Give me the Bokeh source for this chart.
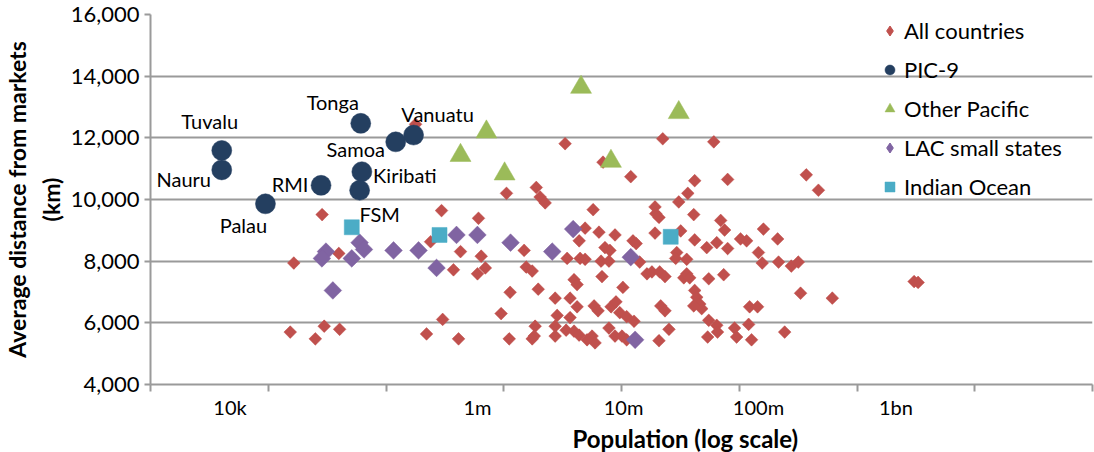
import math
from bokeh.plotting import figure
from bokeh.models import (Range1d, FixedTicker, NumeralTickFormatter, Title,
                          Legend, LegendItem, ColumnDataSource)
from bokeh.core.properties import value
from bokeh.embed import file_html
from bokeh.resources import INLINE

FONT = "Lato"

# ---------------- data ----------------
all_pop = [34e3, 73e3, 32e3, 49e3, 57e3, 74e3, 55e3,
           269e3, 3.41e6, 1.26e6, 2.09e6, 2.23e6, 2.43e6, 418e3, 783e3, 347e3, 577e3,
           820e3, 880e3, 770e3, 512e3, 1.70e6, 1.76e6, 1.95e6, 3.53e6, 4.33e6, 4.4e6,
           1.34e6, 2.16e6, 2.88e6, 3.71e6, 3.97e6, 4.18e6, 4.18e6, 2.98e6, 3.71e6, 1.15e6,
           426e3, 324e3, 558e3, 1.32e6, 2.05e6, 2.02e6, 1.95e6, 2.88e6, 2.88e6, 3.47e6,
           3.97e6, 4.33e6,
           17.9e6, 42.6e6, 6.49e6, 10.4e6, 30.8e6, 53.9e6, 27.4e6, 23.5e6, 5.49e6, 15.7e6,
           15.9e6, 16.8e6, 30.3e6, 47.9e6, 51.2e6, 4.79e6, 6.06e6, 7.96e6, 15.7e6, 24.3e6,
           30.8e6, 37.8e6, 44.8e6, 53.9e6, 6.71e6, 7.3e6, 10.8e6, 11.4e6, 4.79e6, 6.28e6,
           7.18e6, 12.1e6, 22.7e6, 22.3e6, 26.9e6, 6.38e6, 13.7e6, 14.9e6, 17.0e6, 18.6e6,
           25.6e6, 26.9e6, 28.3e6, 39.1e6, 50.4e6, 9.1e6, 5.58e6, 5.97e6, 7.44e6, 8.09e6,
           8.63e6, 9.7e6, 11.0e6, 17.3e6, 18.6e6, 30.8e6, 31.9e6, 33.6e6, 34.7e6, 30.3e6,
           39.1e6, 44.8e6, 60.6e6, 5.39e6, 5.67e6, 4.95e6, 7.18e6, 7.96e6, 8.96e6, 9.7e6,
           19.9e6, 16.8e6, 38.4e6, 45.4e6, 62.8e6,
           205e6, 252e6, 67.1e6, 74.4e6, 99e6, 126e6, 91e6, 97e6, 128e6, 159e6,
           179e6, 186e6, 319e6, 1.28e9, 1.37e9, 78.3e6, 89.6e6, 77e6, 80.9e6, 142e6]
all_dist = [7940, 8250, 5700, 5480, 5890, 5790, 9510,
            12440, 11810, 10200, 10390, 10080, 9890, 9640, 9390, 8630, 8310,
            8160, 7780, 7590, 7720, 8350, 7810, 7680, 8090, 8660, 8090,
            6990, 7090, 6800, 6800, 7400, 7240, 6520, 6240, 6170, 6300,
            6110, 5640, 5480, 5480, 5890, 5570, 5480, 5890, 5570, 5760,
            5730, 5600,
            11970, 11870, 11210, 10740, 10610, 10650, 10200, 9920, 9670, 9760,
            9540, 9420, 9510, 9320, 9010, 9070, 8940, 8850, 8910, 8980,
            8690, 8440, 8600, 8410, 8440, 8350, 8660, 8570, 8060, 8000,
            8000, 7970, 8280, 8090, 8060, 7500, 7590, 7650, 7650, 7500,
            7460, 7590, 7460, 7430, 7560, 7150, 6550, 6390, 6520, 6680,
            6330, 6200, 6050, 6550, 6390, 7050, 6830, 6610, 6460, 6550,
            6080, 5920, 5830, 5570, 5350, 5450, 5830, 5570, 5570, 5450,
            5790, 5420, 5540, 5700, 5540,
            10800, 10300, 8720, 8660, 9040, 8720, 8280, 7940, 7970, 7840,
            7970, 6960, 6800, 7340, 7310, 6520, 6520, 5950, 5450, 5700]

pic_names = ["Tuvalu", "Nauru", "Palau", "RMI", "Tonga", "Kiribati", "FSM", "Samoa", "Vanuatu"]
pic_pop = [10e3, 10e3, 21e3, 54e3, 106e3, 108e3, 104e3, 192e3, 260e3]
pic_dist = [11590, 10960, 9860, 10460, 12470, 10900, 10300, 11870, 12090]

other_pop = [4.47e6, 23.5e6, 896e3, 577e3, 1.22e6, 7.43e6]
other_dist = [13640, 12820, 12190, 11430, 10830, 11240]

lac_pop = [58.7e3, 54.8e3, 66e3, 91e3, 104e3, 112e3, 185e3, 283e3, 384e3, 539e3,
           769e3, 1.35e6, 2.74e6, 3.91e6, 10.4e6, 11.2e6]
lac_dist = [8310, 8090, 7050, 8090, 8600, 8380, 8350, 8350, 7780, 8850,
            8850, 8600, 8310, 9040, 8130, 5450]

io_pop = [91e3, 404e3, 20.5e6]
io_dist = [9100, 8850, 8790]

series_names = ["All countries", "PIC-9", "Other Pacific", "LAC small states", "Indian Ocean"]

x_tick_labels = ["10k", "1m", "10m", "100m", "1bn"]
x_tick_label_at = [11500, 770000, 9200000, 91000000, 940000000]   # label anchor positions
y_ticks = [4000, 6000, 8000, 10000, 12000, 14000, 16000]

# label offsets (pixels) for PIC-9 names
pic_dx = [-12, -38, -22, -31, -28, 43, 20, -40, 24]
pic_dy = [-29, 9, 21, -1, -21, 3, 24, 7, -21]

# ---------------- styles ----------------
RED = "#C0504D"
NAVY = "#243F60"
GREEN = "#9BBB59"
PURPLE = "#8064A2"
CYAN = "#4BACC6"
GRID = "#9a9a9a"

p = figure(width=1094, height=452, x_axis_type="log",
           x_range=Range1d(math.exp(8), math.exp(24)),
           y_range=Range1d(4000, 16000),
           output_backend="svg", toolbar_location=None,
           min_border_left=147, min_border_right=2,
           min_border_top=14, min_border_bottom=63)
p.outline_line_color = None
p.background_fill_color = "white"
p.border_fill_color = "white"

# upright diamonds underneath (also used as legend glyphs), fully covered by the
# 45-degree squares drawn on top
lg_all = p.scatter(all_pop, all_dist, marker="diamond", size=11,
                   fill_color=RED, line_color=RED)
r_all = p.scatter(all_pop, all_dist, marker="square", angle=math.pi / 4, size=9,
                  fill_color=RED, line_color=RED, line_width=0.5)
r_pic = p.scatter(pic_pop, pic_dist, marker="circle", size=20,
                  fill_color=NAVY, line_color=NAVY, line_width=0.5)
r_oth = p.scatter(other_pop, other_dist, marker="triangle", size=21,
                  fill_color=GREEN, line_color=GREEN, line_width=0.5)
lg_lac = p.scatter(lac_pop, lac_dist, marker="diamond", size=15,
                   fill_color=PURPLE, line_color=PURPLE)
r_lac = p.scatter(lac_pop, lac_dist, marker="square", angle=math.pi / 4, size=12.5,
                  fill_color=PURPLE, line_color=PURPLE, line_width=0.5)
r_io = p.scatter(io_pop, io_dist, marker="square", size=15,
                 fill_color=CYAN, line_color=CYAN, line_width=0.5)

src = ColumnDataSource(dict(x=pic_pop, y=pic_dist, t=pic_names, dx=pic_dx, dy=pic_dy))
p.text(x="x", y="y", text="t", x_offset="dx", y_offset="dy", source=src,
       text_font=value(FONT), text_font_size="20px", text_color="#000000",
       text_align="center", text_baseline="middle")

# axes
xa = p.xaxis[0]
xa.ticker = FixedTicker(ticks=x_tick_label_at,
                        minor_ticks=[math.exp(k) for k in range(8, 25, 2)])
xa.major_label_overrides = {float(v): t for v, t in zip(x_tick_label_at, x_tick_labels)}
xa.major_tick_line_color = None
xa.major_tick_out = 0
xa.major_tick_in = 0
xa.minor_tick_line_color = GRID
xa.minor_tick_line_width = 2
xa.minor_tick_out = 7
xa.minor_tick_in = 0
xa.axis_line_color = GRID
xa.axis_line_width = 2
xa.major_label_text_font = FONT
xa.major_label_text_font_size = "20px"
xa.major_label_text_color = "#000000"
xa.major_label_standoff = 3

ya = p.yaxis[0]
ya.ticker = FixedTicker(ticks=y_ticks)
ya.formatter = NumeralTickFormatter(format="0,0")
ya.axis_line_color = GRID
ya.axis_line_width = 2
ya.major_tick_line_color = GRID
ya.major_tick_line_width = 2
ya.major_tick_out = 6
ya.major_tick_in = 0
ya.minor_tick_line_color = None
ya.major_label_text_font = FONT
ya.major_label_text_font_size = "22px"
ya.major_label_text_color = "#000000"
ya.axis_label = "Average distance from markets\n(km)"
ya.axis_label_text_font = FONT
ya.axis_label_text_font_style = "bold"
ya.axis_label_text_font_size = "23px"
ya.axis_label_text_color = "#000000"
ya.axis_label_standoff = 3

p.xgrid.visible = False
p.ygrid.ticker = FixedTicker(ticks=y_ticks)
p.ygrid.grid_line_color = GRID
p.ygrid.grid_line_width = 2

p.add_layout(Title(text="Population (log scale)", align="left", offset=422,
                   standoff=0, text_font=FONT, text_font_style="bold",
                   text_font_size="24px", text_color="#000000"), "below")

legend = Legend(items=[LegendItem(label=n, renderers=[r]) for n, r in
                       zip(series_names, [lg_all, r_pic, r_oth, lg_lac, r_io])],
                location=(727, 184))
legend.label_text_font = FONT
legend.label_text_font_size = "22px"
legend.label_text_color = "#000000"
legend.glyph_width = 25
legend.glyph_height = 25
legend.label_height = 25
legend.spacing = 12
legend.padding = 0
legend.margin = 0
legend.label_standoff = 2
legend.background_fill_alpha = 0
legend.border_line_color = None
p.add_layout(legend)

open("out.html", "w").write(file_html(p, INLINE))
